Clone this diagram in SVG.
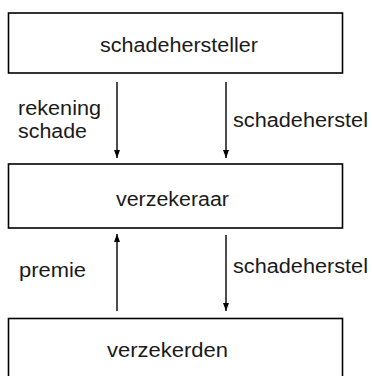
<svg xmlns="http://www.w3.org/2000/svg" width="372" height="376" viewBox="0 0 372 376">
<defs>
<style>
.box{fill:#fff;stroke:#000;stroke-width:1.6}
.t{font-family:"Liberation Sans",Arial,sans-serif;font-size:20px;fill:#1a1a1a}
.c{text-anchor:middle}
.ln{stroke:#000;stroke-width:1.4;fill:none}
</style>
<marker id="ah" viewBox="0 0 8 8" refX="8" refY="4" markerWidth="8" markerHeight="8" markerUnits="userSpaceOnUse" orient="auto">
<path d="M0,1 L8,4 L0,7 Z" fill="#000"/>
</marker>
</defs>
<rect width="372" height="376" fill="#fff"/>
<g id="schadehersteller">
<rect class="box" x="8.5" y="13" width="334" height="60"/>
<text class="t c" x="179" y="52" textLength="158" lengthAdjust="spacingAndGlyphs">schadehersteller</text>
</g>
<g id="verzekeraar">
<rect class="box" x="8.5" y="164" width="334" height="64"/>
<text class="t c" x="172.5" y="206" textLength="113" lengthAdjust="spacingAndGlyphs">verzekeraar</text>
</g>
<g id="verzekerden">
<rect class="box" x="8.5" y="318.5" width="334" height="70"/>
<text class="t c" x="167.5" y="357" textLength="121" lengthAdjust="spacingAndGlyphs">verzekerden</text>
</g>
<g id="connectors">
<line class="ln" x1="117" y1="82" x2="117" y2="158" marker-end="url(#ah)"/>
<line class="ln" x1="226" y1="82" x2="226" y2="158" marker-end="url(#ah)"/>
<line class="ln" x1="117" y1="311" x2="117" y2="234" marker-end="url(#ah)"/>
<line class="ln" x1="226" y1="235" x2="226" y2="311" marker-end="url(#ah)"/>
<text class="t" x="18" y="115" textLength="83" lengthAdjust="spacingAndGlyphs">rekening</text>
<text class="t" x="18" y="138" textLength="69" lengthAdjust="spacingAndGlyphs">schade</text>
<text class="t" x="233" y="127" textLength="135" lengthAdjust="spacingAndGlyphs">schadeherstel</text>
<text class="t" x="19" y="277" textLength="67" lengthAdjust="spacingAndGlyphs">premie</text>
<text class="t" x="233" y="273" textLength="135" lengthAdjust="spacingAndGlyphs">schadeherstel</text>
</g>
</svg>
